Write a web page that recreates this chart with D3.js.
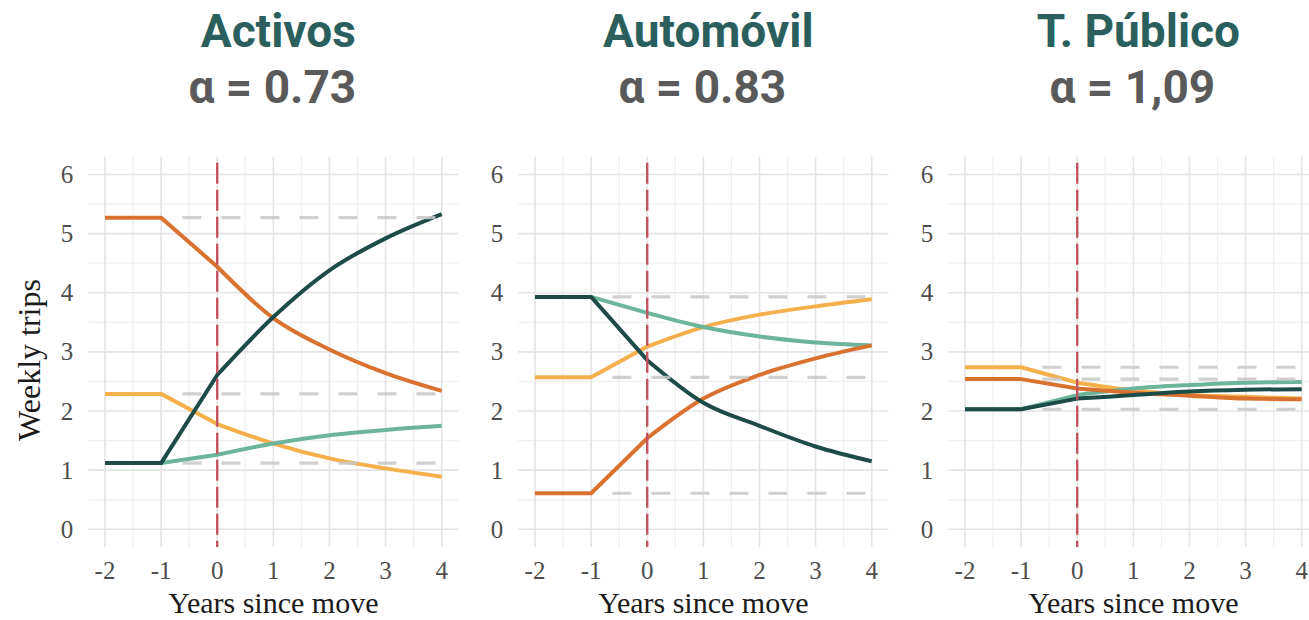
<!DOCTYPE html>
<html>
<head>
<meta charset="utf-8">
<script src="https://cdn.jsdelivr.net/npm/d3@7"></script>
<style>
html,body{margin:0;padding:0;background:#fff;}
svg{display:block;}
</style>
</head>
<body>
<svg id="chart" width="1309" height="620"></svg>
<script>
// ---- data ----
const years = [-2, -1, 0, 1, 2, 3, 4];
const panelTitles = ["Activos", "Automóvil", "T. Público"];
const alphaLabels = ["α = 0.73", "α = 0.83", "α = 1,09"];
const xTicks = [-2, -1, 0, 1, 2, 3, 4];
const yTicks = [0, 1, 2, 3, 4, 5, 6];
const seriesNames = ["yellow", "lightGreen", "orange", "darkGreen"];
const seriesColors = ["#f5b04c", "#6cb59b", "#d9722f", "#1d4c48"];

// Activos
const activosYellow     = [2.29, 2.29, 1.78, 1.45, 1.20, 1.03, 0.89];
const activosLightGreen = [1.12, 1.12, 1.26, 1.45, 1.59, 1.68, 1.75];
const activosOrange     = [5.27, 5.27, 4.44, 3.57, 3.04, 2.64, 2.34];
const activosDarkGreen  = [1.12, 1.12, 2.61, 3.59, 4.38, 4.92, 5.33];
// Automóvil
const autoYellow     = [2.57, 2.57, 3.09, 3.42, 3.63, 3.77, 3.89];
const autoLightGreen = [3.93, 3.93, 3.66, 3.42, 3.26, 3.16, 3.11];
const autoOrange     = [0.61, 0.61, 1.54, 2.21, 2.61, 2.89, 3.11];
const autoDarkGreen  = [3.93, 3.93, 2.86, 2.14, 1.75, 1.40, 1.15];
// T. Público
const tpYellow     = [2.74, 2.74, 2.48, 2.35, 2.27, 2.24, 2.21];
const tpLightGreen = [2.03, 2.03, 2.27, 2.38, 2.44, 2.48, 2.49];
const tpOrange     = [2.54, 2.54, 2.38, 2.31, 2.26, 2.21, 2.20];
const tpDarkGreen  = [2.03, 2.03, 2.21, 2.27, 2.33, 2.36, 2.37];

const panelSeries = [
  [activosYellow, activosLightGreen, activosOrange, activosDarkGreen],
  [autoYellow, autoLightGreen, autoOrange, autoDarkGreen],
  [tpYellow, tpLightGreen, tpOrange, tpDarkGreen]
];

// ---- layout ----
const svg = d3.select("#chart");
const panelStep = 430;
const xLeft = 105, xRight = 441.7;     // pixel of x=-2 and x=4 in first panel
const y0 = 529.3, y6 = 174.5;          // pixel of y=0 and y=6
const y = d3.scaleLinear().domain([0, 6]).range([y0, y6]);
const yMin = -0.3, yMax = 6.3;
const xMin = -2.3, xMax = 4.3;

const serif = "'Liberation Serif','Times New Roman',serif";

panelTitles.forEach((title, i) => {
  const off = i * panelStep;
  const x = d3.scaleLinear().domain([-2, 4]).range([xLeft + off, xRight + off]);
  const g = svg.append("g");

  // minor grid
  const xMinor = d3.range(-2.5, 4.6, 1);
  const yMinor = d3.range(-0.5, 6.6, 1).filter(v => v > yMin && v < yMax);
  g.selectAll(".vminor").data(xMinor.filter(v => v > xMin && v < xMax)).join("line")
    .attr("x1", d => x(d)).attr("x2", d => x(d))
    .attr("y1", y(yMin)).attr("y2", y(yMax))
    .attr("stroke", "#f0f0f0").attr("stroke-width", 1.3);
  g.selectAll(".hminor").data(yMinor).join("line")
    .attr("x1", x(xMin)).attr("x2", x(xMax))
    .attr("y1", d => y(d)).attr("y2", d => y(d))
    .attr("stroke", "#f0f0f0").attr("stroke-width", 1.3);
  // major grid
  g.selectAll(".vmajor").data(xTicks).join("line")
    .attr("x1", d => x(d)).attr("x2", d => x(d))
    .attr("y1", y(yMin)).attr("y2", y(yMax))
    .attr("stroke", "#e4e4e4").attr("stroke-width", 1.6);
  g.selectAll(".hmajor").data(yTicks).join("line")
    .attr("x1", x(xMin)).attr("x2", x(xMax))
    .attr("y1", d => y(d)).attr("y2", d => y(d))
    .attr("stroke", "#e4e4e4").attr("stroke-width", 1.6);

  // series lines: linear before the move, smooth after
  const pts = vals => vals.map((v, k) => [years[k], v]);
  const linePre = d3.line().x(d => x(d[0])).y(d => y(d[1]));
  const linePost = d3.line().x(d => x(d[0])).y(d => y(d[1])).curve(d3.curveMonotoneX);
  panelSeries[i].forEach((vals, s) => {
    const p = pts(vals);
    const pre = p.filter(d => d[0] <= 0);
    const post = p.filter(d => d[0] >= 0);
    const path = linePre(pre) + linePost(post).replace(/^M/, "L");
    g.append("path")
      .attr("d", path)
      .attr("fill", "none")
      .attr("stroke", seriesColors[s])
      .attr("stroke-width", 4)
      .attr("stroke-linejoin", "round");
  });

  // grey dashed baselines (pre-move level of each series)
  const baselines = Array.from(new Set(panelSeries[i].map(v => v[0])));
  g.selectAll(".base").data(baselines).join("line")
    .attr("x1", x(-0.62)).attr("x2", x(4))
    .attr("y1", d => y(d)).attr("y2", d => y(d))
    .attr("stroke", "#c8c8c8").attr("stroke-width", 3.2)
    .attr("stroke-dasharray", "19,20")
    .attr("opacity", 0.85);

  // red dashed vertical at move
  g.append("line")
    .attr("x1", x(0)).attr("x2", x(0))
    .attr("y1", y(6.2)).attr("y2", y(yMin))
    .attr("stroke", "#c4535f").attr("stroke-width", 2.4)
    .attr("stroke-dasharray", "21,6");

  // y tick labels
  g.selectAll(".ytl").data(yTicks).join("text")
    .attr("x", x(xMin) - 15).attr("y", d => y(d))
    .attr("text-anchor", "end").attr("dominant-baseline", "central")
    .attr("font-family", serif).attr("font-size", 25).attr("fill", "#4d4d4d")
    .text(d => d);
  // x tick labels
  g.selectAll(".xtl").data(xTicks).join("text")
    .attr("x", d => x(d)).attr("y", 579)
    .attr("text-anchor", "middle")
    .attr("font-family", serif).attr("font-size", 25).attr("fill", "#4d4d4d")
    .text(d => d);
  // x title
  g.append("text")
    .attr("x", x(1)).attr("y", 613)
    .attr("text-anchor", "middle")
    .attr("font-family", serif).attr("font-size", 30).attr("fill", "#1a1a1a")
    .text("Years since move");

  // panel titles
  svg.append("text")
    .attr("x", x(1) + 5).attr("y", 47)
    .attr("text-anchor", "middle")
    .attr("font-family", "Roboto, sans-serif").attr("font-weight", 700)
    .attr("font-size", 46).attr("fill", "#2b5f5e")
    .text(title);
  svg.append("text")
    .attr("x", x(1) - 1).attr("y", 103)
    .attr("text-anchor", "middle")
    .attr("font-family", "Roboto, sans-serif").attr("font-weight", 700)
    .attr("font-size", 46).attr("fill", "#5a5a5a")
    .text(alphaLabels[i]);
});

// y axis title
svg.append("text")
  .attr("transform", "translate(40,360) rotate(-90)")
  .attr("text-anchor", "middle")
  .attr("font-family", serif).attr("font-size", 32).attr("fill", "#1a1a1a")
  .text("Weekly trips");
</script>
</body>
</html>
